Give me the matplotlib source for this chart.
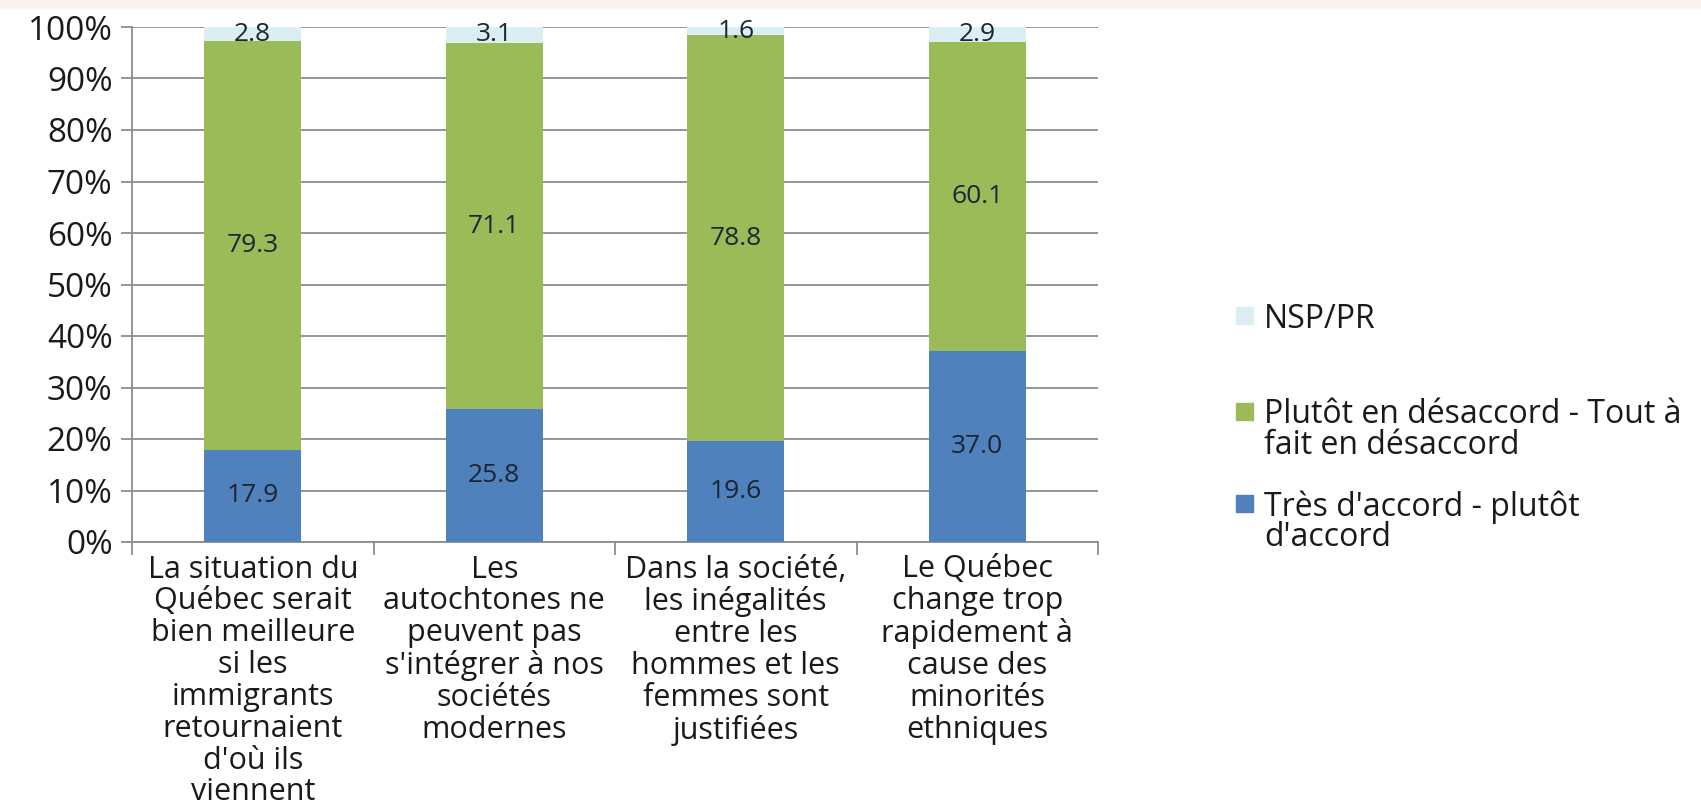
import matplotlib
matplotlib.use("Agg")
import matplotlib.pyplot as plt
import numpy as np

categories = [
    "La situation du\nQuébec serait\nbien meilleure\nsi les\nimmigrants\nretournaient\nd'où ils\nviennent",
    "Les\nautochtones ne\npeuvent pas\ns'intégrer à nos\nsociétés\nmodernes",
    "Dans la société,\nles inégalités\nentre les\nhommes et les\nfemmes sont\njustifiées",
    "Le Québec\nchange trop\nrapidement à\ncause des\nminorités\nethniques",
]
series_names = [
    "Très d'accord - plutôt\nd'accord",
    "Plutôt en désaccord - Tout à\nfait en désaccord",
    "NSP/PR",
]
accord = [17.9, 25.8, 19.6, 37.0]
desaccord = [79.3, 71.1, 78.8, 60.1]
nsp = [2.8, 3.1, 1.6, 2.9]
colors = ["#4F81BD", "#9BBB59", "#DAEEF3"]
yticks = [0, 10, 20, 30, 40, 50, 60, 70, 80, 90, 100]
ytick_labels = [f"{v}%" for v in yticks]

plt.rcParams['font.family'] = ['Open Sans', 'DejaVu Sans']

W, H = 1701, 811
fig = plt.figure(figsize=(W/100, H/100), dpi=100)
# thin beige band at top of the image
fig.patches.append(plt.Rectangle((0, 0.99), 1, 0.01, transform=fig.transFigure,
                                 color="#FBF3EC", zorder=0))
ax = fig.add_axes([132/W, 1-542/H, (1098-132)/W, (542-27)/H])

x = np.arange(len(categories))
w = 0.40
grid_c = "#8C8C8C"
text_c = "#1A1A1A"
bottom = np.zeros(len(categories))
bars = []
for vals, c, name in zip([accord, desaccord, nsp], colors, series_names):
    b = ax.bar(x, vals, w, bottom=bottom, color=c, label=name, zorder=3)
    for xi, v, bt in zip(x, vals, bottom):
        ax.text(xi, bt + v/2, f"{v:.1f}", ha="center", va="center",
                fontsize=19, color="#1B2533", zorder=4)
    bottom = bottom + np.array(vals)
    bars.append(b)

ax.set_xlim(-0.5, len(categories) - 0.5)
ax.set_ylim(0, 100)
ax.set_yticks(yticks)
ax.set_yticklabels(ytick_labels, fontsize=24, color=text_c)
ax.yaxis.grid(True, color=grid_c, linewidth=1.3, zorder=0)
ax.set_axisbelow(True)
ax.tick_params(axis="y", length=8, width=1.3, color=grid_c, pad=6)

ax.set_xticks(x)
ax.set_xticklabels(categories, fontsize=22, color=text_c, linespacing=1.08)
ax.set_xticks(np.arange(-0.5, len(categories)), minor=True)
ax.tick_params(axis="x", which="major", length=0, pad=9)
ax.tick_params(axis="x", which="minor", length=9, width=1.3, color=grid_c)

for s in ["top", "right"]:
    ax.spines[s].set_visible(False)
for s in ["left", "bottom"]:
    ax.spines[s].set_color(grid_c)
    ax.spines[s].set_linewidth(1.3)

# legend (Excel style: swatch aligned with the first line of each entry)
leg_order = [2, 1, 0]
leg_first_y = [316, 411, 503]   # pixel rows of the first line of each entry
line_gap = 30
sw = 17
for idx, y0 in zip(leg_order, leg_first_y):
    fig.patches.append(plt.Rectangle((1236/W, 1-(y0+sw/2)/H), sw/W, sw/H,
                                     transform=fig.transFigure,
                                     color=colors[idx]))
    for k, line in enumerate(series_names[idx].split("\n")):
        fig.text(1264/W, 1-(y0 + k*line_gap)/H, line, fontsize=23,
                 color=text_c, ha="left", va="center_baseline")

fig.savefig("out.png", dpi=100)
